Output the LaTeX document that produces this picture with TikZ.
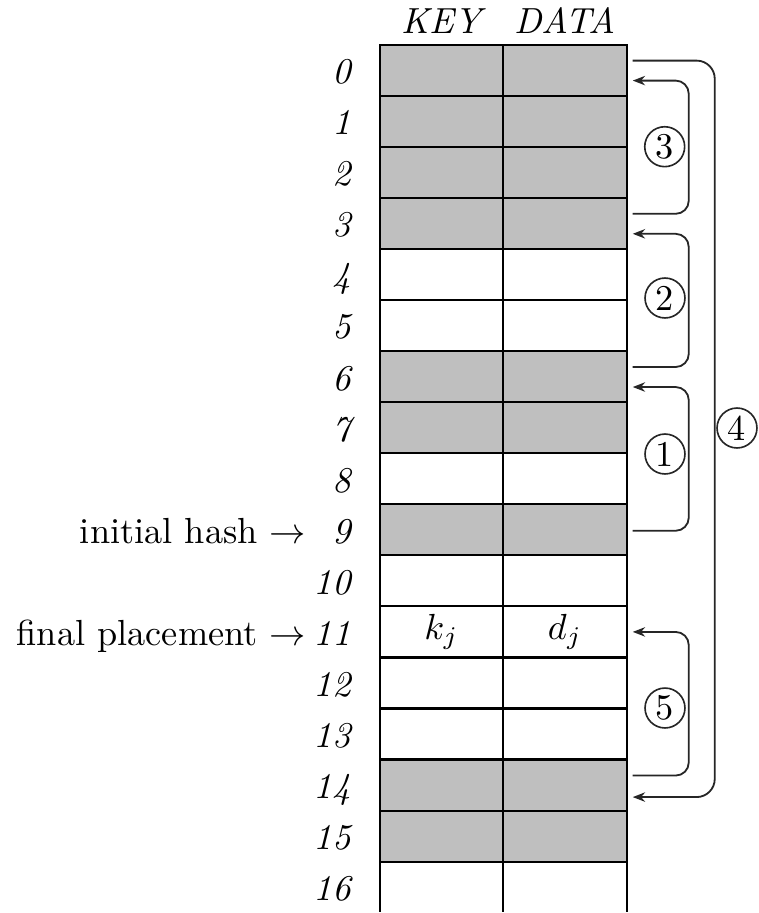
\documentclass[tikz,border=0pt]{standalone}
\usetikzlibrary{arrows.meta,calc}
\begin{document}
\begin{tikzpicture}[x=0.2755pt,y=-0.2755pt,
  cell/.style={draw,line width=0.6pt,minimum width=34.02pt,minimum height=14.07pt,inner sep=0pt,outer sep=0pt},
  used/.style={cell,fill=black!25},
  free/.style={cell,fill=white},
  rowlab/.style={anchor=base east,inner sep=0pt,font=\itshape},
  brk/.style={line width=0.5pt,black!85,rounded corners=3.6pt},
  arr/.style={brk,-{Stealth[length=3.4pt,width=2.6pt]}},
  circ/.style={circle,draw,line width=0.45pt,black!85,text=black,inner sep=0pt,minimum size=11pt}]
\useasboundingbox (0,0) rectangle (758,913);
\clip (0,0) rectangle (758,911.3);
% header
\node[font=\itshape,anchor=base] (hkey) at (441.5,33) {KEY};
\node[font=\itshape,anchor=base] (hdata) at (565,33) {DATA};
% rows
\foreach \r/\s in {0/used,1/used,2/used,3/used,4/free,5/free,6/used,7/used,8/free,9/used,10/free,11/free,12/free,13/free,14/used,15/used,16/free}{
  \pgfmathsetmacro{\yc}{44.6+51.07*\r+25.53}
  \node[\s] (k\r) at (441.5,\yc) {};
  \node[\s] (d\r) at (565,\yc) {};
  \node[rowlab] (n\r) at ($(k\r.west)+(-28,13.5)$) {\r};
}
\node (kj) at (k11) {$k_j$};
\node (dj) at (d11) {$d_j$};
\node[anchor=base east,inner sep=0pt] (ih) at ($(k9.west)+(-73,13.5)$) {initial hash $\rightarrow$};
\node[anchor=base east,inner sep=0pt] (fp) at ($(k11.west)+(-73,13.5)$) {final placement $\rightarrow$};
% bracket end points
\coordinate (t3) at ($(d3.north east)+(6,16)$);
\coordinate (a3) at ($(d0.north east)+(6,36)$);
\coordinate (t2) at ($(d6.north east)+(6,16)$);
\coordinate (a2) at ($(d3.north east)+(6,36)$);
\coordinate (t1) at ($(d9.east)+(6,1)$);
\coordinate (a1) at ($(d6.north east)+(6,36)$);
\coordinate (t5) at ($(d14.north east)+(6,16)$);
\coordinate (a5) at ($(d11.east)+(6,0)$);
\coordinate (t4) at ($(d0.north east)+(6,16)$);
\coordinate (a4) at ($(d14.north east)+(6,37.5)$);
% brackets
\draw[arr] (t3) -- ++(56,0) |- (a3);
\draw[arr] (t2) -- ++(56,0) |- (a2);
\draw[arr] (t1) -- ++(56,0) |- (a1);
\draw[arr] (t5) -- ++(56,0) |- (a5);
\draw[arr,rounded corners=5pt] (t4) -- ++(82,0) |- (a4);
% labels
\node[circ] (c3) at (664.7,146.7) {3};
\node[circ] (c2) at (665,298) {2};
\node[circ] (c1) at (665,454) {1};
\node[circ] (c5) at (665,708) {5};
\node[circ] (c4) at (737,428) {4};
\end{tikzpicture}
\end{document}
